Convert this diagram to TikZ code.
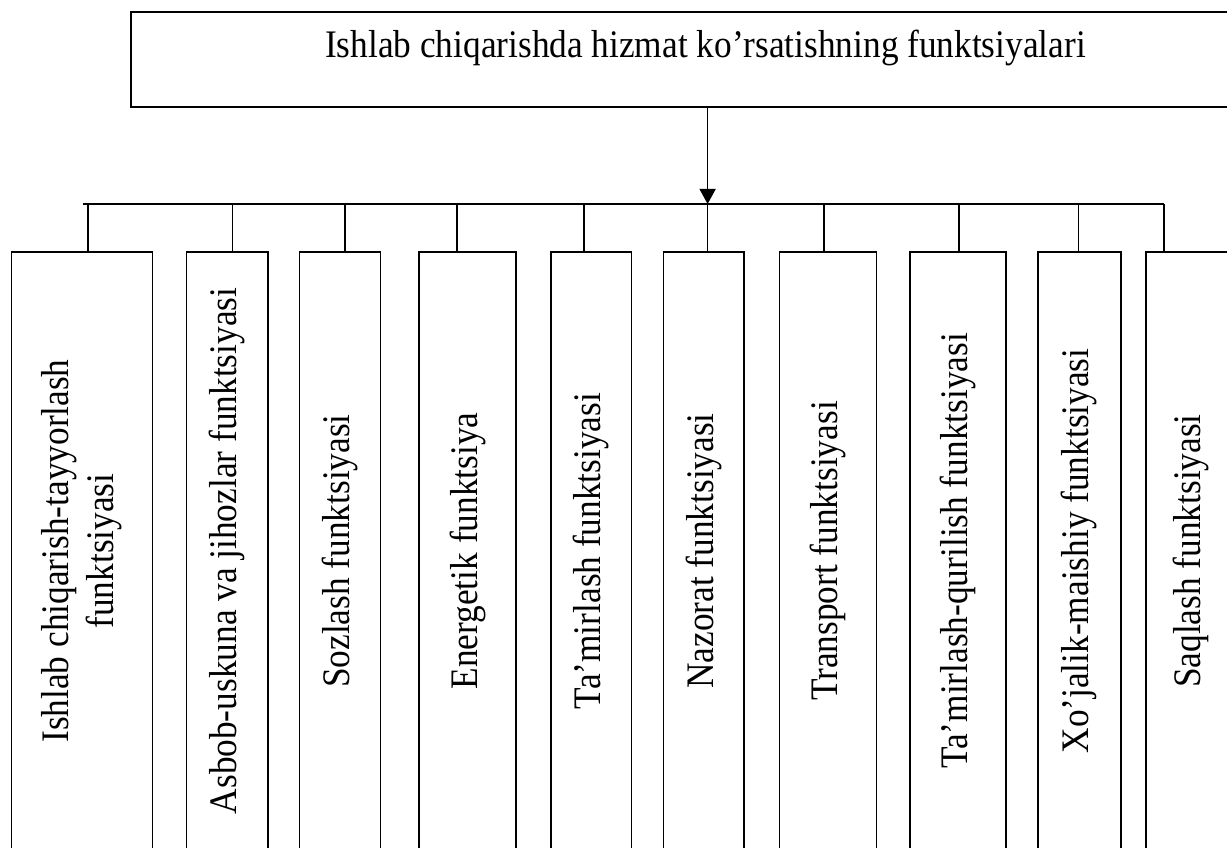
\documentclass[tikz,border=0pt]{standalone}
\usepackage{fontspec}
\setmainfont{Liberation Serif}
\newfontfamily\tnrs[FakeStretch=0.905]{Liberation Serif}
\usetikzlibrary{arrows.meta}
\tikzset{
  fbox/.style={draw, line width=1.6pt, inner sep=0pt, minimum height=598pt},
  lbl/.style={font=\tnrs\fontsize{39}{45}\selectfont, inner sep=0pt, rotate=90, align=center},
  conn/.style={line width=1.6pt},
  ttl/.style={font=\tnrs\fontsize{39}{45}\selectfont, inner sep=0pt, anchor=base},
}
\begin{document}
\begin{tikzpicture}[x=1pt,y=-1pt]
\useasboundingbox (0,0) rectangle (1227,848);
\clip (0,0) rectangle (1227,848);
% top box
\node[draw, line width=1.6pt, inner sep=0pt, minimum width=1153.2pt, minimum height=95pt] (top) at (707.6,59.5) {};
\node[ttl] (title) at (705.5,58) {Ishlab chiqarishda hizmat ko’rsatishning funktsiyalari};
% bus
\coordinate (busL) at (83,204);
\coordinate (busR) at (1164,204);
\coordinate (s1) at (87.8,204);
\coordinate (s2) at (232.5,204);
\coordinate (s3) at (344.8,204);
\coordinate (s4) at (457,204);
\coordinate (s5) at (584,204);
\coordinate (s6) at (707.6,204);
\coordinate (s7) at (823.7,204);
\coordinate (s8) at (958.7,204);
\coordinate (s9) at (1078.3,204);
\coordinate (s10) at (1164,204);
\draw[conn] (busL) -- (busR);
\draw[conn,-{Triangle[length=15pt,width=16pt]}] (top.south) -- (s6);
% boxes
\node[fbox, minimum width=141pt] (b1) at (82,551) {};
\node[fbox, minimum width=81.1pt] (b2) at (227.15,551) {};
\node[fbox, minimum width=81.1pt] (b3) at (339.85,551) {};
\node[fbox, minimum width=97pt] (b4) at (467.5,551) {};
\node[fbox, minimum width=80.8pt] (b5) at (591.2,551) {};
\node[fbox, minimum width=80.7pt] (b6) at (703.85,551) {};
\node[fbox, minimum width=96.8pt] (b7) at (828,551) {};
\node[fbox, minimum width=96pt] (b8) at (957.9,551) {};
\node[fbox, minimum width=83pt] (b9) at (1079.3,551) {};
\node[fbox, minimum width=90pt] (b10) at (1191,551) {};
% labels
\node[lbl] (t1) at (b1.center) {Ishlab chiqarish-tayyorlash\\funktsiyasi};
\node[lbl] (t2) at (b2.center) {Asbob-uskuna va jihozlar funktsiyasi};
\node[lbl] (t3) at (b3.center) {Sozlash funktsiyasi};
\node[lbl] (t4) at (b4.center) {Energetik funktsiya};
\node[lbl] (t5) at (b5.center) {Ta’mirlash funktsiyasi};
\node[lbl] (t6) at (b6.center) {Nazorat funktsiyasi};
\node[lbl] (t7) at (b7.center) {Transport funktsiyasi};
\node[lbl] (t8) at (b8.center) {Ta’mirlash-qurilish funktsiyasi};
\node[lbl] (t9) at (b9.center) {Xo’jalik-maishiy funktsiyasi};
\node[lbl] (t10) at (b10.center) {Saqlash funktsiyasi};
% stems
\draw[conn] (s1) -- (s1 |- b1.north);
\draw[conn] (s2) -- (s2 |- b2.north);
\draw[conn] (s3) -- (s3 |- b3.north);
\draw[conn] (s4) -- (s4 |- b4.north);
\draw[conn] (s5) -- (s5 |- b5.north);
\draw[conn] (s6) -- (s6 |- b6.north);
\draw[conn] (s7) -- (s7 |- b7.north);
\draw[conn] (s8) -- (s8 |- b8.north);
\draw[conn] (s9) -- (s9 |- b9.north);
\draw[conn] (s10) -- (s10 |- b10.north);
\end{tikzpicture}
\end{document}
